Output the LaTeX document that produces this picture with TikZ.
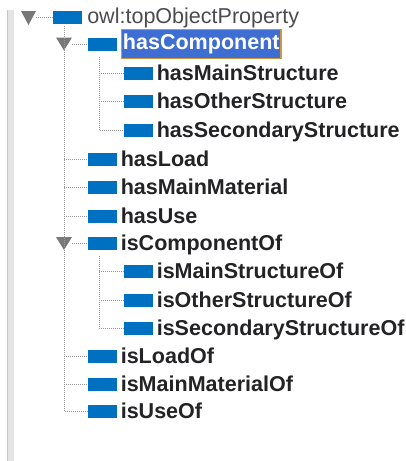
\documentclass[tikz,border=0pt]{standalone}
\usepackage{fontspec}
\setmainfont{Liberation Sans}
\usetikzlibrary{shapes.geometric, arrows}
\definecolor{propblue}{RGB}{0,112,192}
\definecolor{selblue}{RGB}{62,110,210}
\definecolor{selborder}{RGB}{205,150,70}
\definecolor{textgray}{RGB}{35,35,38}
\definecolor{rootgray}{RGB}{75,75,80}
\definecolor{arrowgray}{RGB}{120,120,120}

\begin{document}
\begin{tikzpicture}[x=0.75pt,y=0.75pt,yscale=-1,xscale=1,
  prop/.style={fill=propblue, minimum width=21.75pt, minimum height=9.75pt, inner sep=0},
  lbl/.style={font=\fontsize{16.15}{18}\selectfont\bfseries, text=textgray, inner sep=0, anchor=base west},
  sel/.style={font=\fontsize{16.15}{18}\selectfont\bfseries, text=white, fill=selblue, draw=selborder, line width=1.1pt, inner xsep=0.9pt, minimum height=18pt, anchor=west},
  treeline/.style={draw=black!40, densely dotted, line width=0.5pt}]
\useasboundingbox (0,0) rectangle (405,461);

%Shape: Panel border
\fill [black!10] (7,10) rectangle (14,461) ;
\draw [black!22, line width=1pt] (7.5,10) -- (7.5,461) ;

%Shape: Expand triangles
\fill [arrowgray] (21,11) -- (36,11) -- (28.5,25) -- cycle ;
\coordinate (triRoot) at (36,17.5) ;
\fill [arrowgray] (56,37.5) -- (72,37.5) -- (64,50.5) -- cycle ;
\coordinate (triComp) at (72,44) ;
\fill [arrowgray] (56,237) -- (72,237) -- (64,250) -- cycle ;
\coordinate (triCompOf) at (72,243.5) ;

%Shape: Property icons
\node [prop] (root) at (67.5,17.5) {} ;
\node [prop] (hasComponent) at (102,44) {} ;
\node [prop] (hasMainStructure) at (138,73.5) {} ;
\node [prop] (hasOtherStructure) at (138,101.5) {} ;
\node [prop] (hasSecondaryStructure) at (138,130) {} ;
\node [prop] (hasLoad) at (102,159) {} ;
\node [prop] (hasMainMaterial) at (102,187.5) {} ;
\node [prop] (hasUse) at (102,216) {} ;
\node [prop] (isComponentOf) at (102,243.5) {} ;
\node [prop] (isMainStructureOf) at (138,271.5) {} ;
\node [prop] (isOtherStructureOf) at (138,300) {} ;
\node [prop] (isSecondaryStructureOf) at (138,328) {} ;
\node [prop] (isLoadOf) at (102,356.5) {} ;
\node [prop] (isMainMaterialOf) at (102,384) {} ;
\node [prop] (isUseOf) at (102,411.5) {} ;

%Straight Lines: tree
\draw [treeline] (triRoot) -- (root.west) ;
\coordinate (trunkA) at (64,26) ;
\draw [treeline] (trunkA) |- (isUseOf.west) ;
\draw [treeline] (triComp) -- (hasComponent.west) ;
\draw [treeline] (trunkA |- hasLoad.west) -- (hasLoad.west) ;
\draw [treeline] (trunkA |- hasMainMaterial.west) -- (hasMainMaterial.west) ;
\draw [treeline] (trunkA |- hasUse.west) -- (hasUse.west) ;
\draw [treeline] (triCompOf) -- (isComponentOf.west) ;
\draw [treeline] (trunkA |- isLoadOf.west) -- (isLoadOf.west) ;
\draw [treeline] (trunkA |- isMainMaterialOf.west) -- (isMainMaterialOf.west) ;
\coordinate (trunkB) at (99,57) ;
\draw [treeline] (trunkB) |- (hasSecondaryStructure.west) ;
\draw [treeline] (trunkB |- hasMainStructure.west) -- (hasMainStructure.west) ;
\draw [treeline] (trunkB |- hasOtherStructure.west) -- (hasOtherStructure.west) ;
\coordinate (trunkC) at (99,256) ;
\draw [treeline] (trunkC) |- (isSecondaryStructureOf.west) ;
\draw [treeline] (trunkC |- isMainStructureOf.west) -- (isMainStructureOf.west) ;
\draw [treeline] (trunkC |- isOtherStructureOf.west) -- (isOtherStructureOf.west) ;

% Text Node
\node [lbl, font=\fontsize{16.15}{18}\selectfont, text=rootgray] (tRoot) at (87,23) {owl:topObjectProperty} ;
\node [sel] (tHasComponent) at (121,44) {hasComponent} ;
\node [lbl] (tHasMainStructure) at (156.5,80.5) {hasMainStructure} ;
\node [lbl] (tHasOtherStructure) at (156.5,108.5) {hasOtherStructure} ;
\node [lbl] (tHasSecondaryStructure) at (156.5,137) {hasSecondaryStructure} ;
\node [lbl] (tHasLoad) at (120.5,166) {hasLoad} ;
\node [lbl] (tHasMainMaterial) at (120.5,194.5) {hasMainMaterial} ;
\node [lbl] (tHasUse) at (120.5,223) {hasUse} ;
\node [lbl] (tIsComponentOf) at (120.5,250.5) {isComponentOf} ;
\node [lbl] (tIsMainStructureOf) at (156.5,278.5) {isMainStructureOf} ;
\node [lbl] (tIsOtherStructureOf) at (156.5,307) {isOtherStructureOf} ;
\node [lbl] (tIsSecondaryStructureOf) at (156.5,335) {isSecondaryStructureOf} ;
\node [lbl] (tIsLoadOf) at (120.5,363.5) {isLoadOf} ;
\node [lbl] (tIsMainMaterialOf) at (120.5,391) {isMainMaterialOf} ;
\node [lbl] (tIsUseOf) at (120.5,418.5) {isUseOf} ;

\end{tikzpicture}
\end{document}
